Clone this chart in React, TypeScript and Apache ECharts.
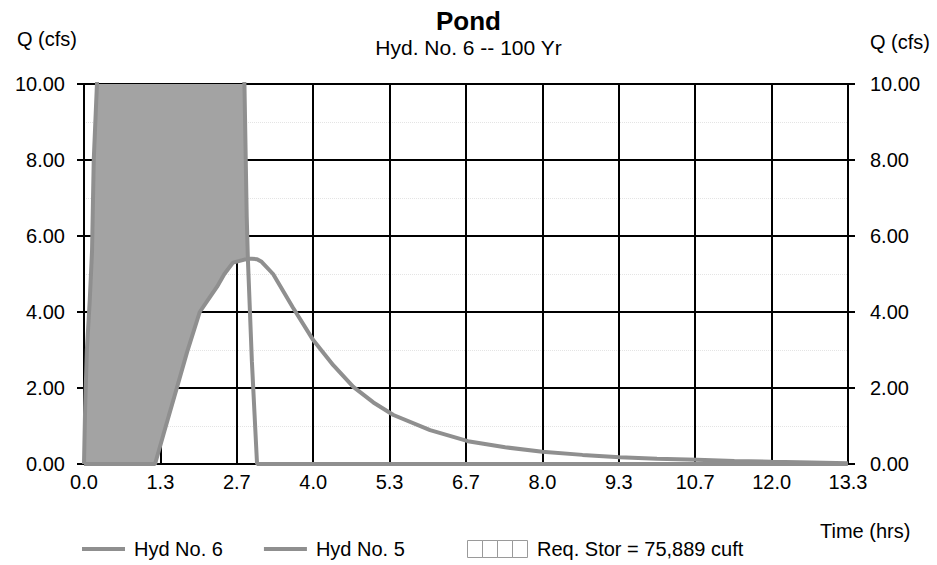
import React, { useEffect, useRef } from "react";
import * as echarts from "echarts";

// Time (hrs)
const timeHrs = [
  0, 0.02, 0.05, 0.1, 0.14, 0.17, 0.24, 0.5, 0.8, 1.0, 1.24, 1.4, 1.62, 1.8, 2.02,
  2.2, 2.32, 2.45, 2.6, 2.75, 2.8, 2.84, 2.86, 2.93, 3.02, 3.1, 3.3, 3.64, 4.0,
  4.35, 4.7, 5.05, 5.4, 6.04, 6.7, 7.35, 8.0, 8.7, 9.35, 10.0, 10.7, 11.35, 12.0,
  12.7, 13.33,
];

// Hyd No. 6 (outflow), cfs
const hydNo6 = [
  0, 0, 0, 0, 0, 0, 0, 0, 0, 0, 0, 0.85, 2.0, 2.95, 4.0,
  4.4, 4.66, 5.0, 5.3, 5.36, 5.38, 5.39, 5.4, 5.4, 5.39, 5.32, 5.0, 4.13, 3.26,
  2.6, 2.03, 1.62, 1.29, 0.89, 0.6, 0.44, 0.32, 0.24, 0.18, 0.14, 0.11, 0.08, 0.06,
  0.04, 0.02,
];

// Hyd No. 5 (inflow), cfs (peak runs off the top of the chart)
const hydNo5 = [
  0, 1.5, 3.0, 4.3, 5.6, 8.0, 10.5, 19, 27, 31, 33, 32, 29, 26, 22,
  19, 17, 15, 13, 11, 10, 6.5, 5.4, 2.7, 0, 0, 0, 0, 0,
  0, 0, 0, 0, 0, 0, 0, 0, 0, 0, 0, 0, 0, 0,
  0, 0,
];

const titleText = "Pond";
const subtitleText = "Hyd. No. 6 -- 100 Yr";
const yAxisTitle = "Q (cfs)";
const xAxisTitle = "Time (hrs)";
const hyd6Name = "Hyd No. 6";
const hyd5Name = "Hyd No. 5";
const storName = "Req. Stor = 75,889 cuft";

const FONT = "'Liberation Sans', Arial, sans-serif";
const LINE_COLOR = "#8f8f8f";
const FILL_COLOR = "#a3a3a3";

export default function App() {
  const ref = useRef<HTMLDivElement>(null);

  useEffect(() => {
    if (!ref.current) return;
    const chart = echarts.init(ref.current, null, { renderer: "svg" });

    // x stored in minutes so that the 1.333 h tick step is an exact 80
    const pts = (vals: number[]) => timeHrs.map((t, i) => [t * 60, vals[i]]);
    // value first, time second, so that stacking adds the Q values (not time)
    const stackPts = (vals: number[]) => timeHrs.map((t, i) => [vals[i], t * 60]);
    const storage = hydNo5.map((v, i) => Math.max(0, v - hydNo6[i]));

    const yAxisCommon = {
      type: "value",
      min: 0,
      max: 10,
      interval: 2,
      axisLine: { show: true, lineStyle: { color: "#000", width: 2 } },
      axisTick: { show: true, inside: false, length: 7, lineStyle: { color: "#000", width: 2 } },
      axisLabel: {
        fontSize: 20,
        color: "#000",
        fontFamily: FONT,
        formatter: (v: number) => v.toFixed(2),
      },
    };

    const option: any = {
      animation: false,
      textStyle: { fontFamily: FONT },
      title: {
        text: titleText,
        subtext: subtitleText,
        left: "center",
        top: 8,
        padding: 0,
        itemGap: 3,
        textStyle: { fontSize: 26, fontWeight: "bold", color: "#000", fontFamily: FONT },
        subtextStyle: { fontSize: 21, color: "#000", fontFamily: FONT },
      },
      grid: { left: 84, top: 84, right: 89, bottom: 101, containLabel: false },
      xAxis: {
        type: "value",
        min: 0,
        max: 800,
        interval: 80,
        axisLine: { show: true, lineStyle: { color: "#000", width: 2 } },
        axisTick: { show: false },
        axisLabel: {
          margin: 8,
          fontSize: 20,
          color: "#000",
          fontFamily: FONT,
          formatter: (v: number) => (v / 60).toFixed(1),
        },
        splitLine: { show: true, lineStyle: { color: "#000", width: 2 } },
      },
      yAxis: [
        {
          ...yAxisCommon,
          position: "left",
          axisLabel: { ...yAxisCommon.axisLabel, margin: 19 },
          splitLine: { show: true, lineStyle: { color: "#000", width: 2 } },
          minorTick: { show: false, splitNumber: 2 },
          minorSplitLine: { show: true, lineStyle: { color: "#e4e4e4", type: "dotted", width: 1 } },
        },
        {
          ...yAxisCommon,
          position: "right",
          axisLabel: { ...yAxisCommon.axisLabel, margin: 22 },
          splitLine: { show: false },
        },
      ],
      legend: [
        {
          data: [hyd6Name, hyd5Name],
          left: 82,
          top: 539,
          padding: 0,
          icon: "rect",
          itemWidth: 43,
          itemHeight: 4,
          itemGap: 41,
          selectedMode: false,
          textStyle: { fontSize: 20, color: "#000", fontFamily: FONT, padding: [0, 0, 0, 4] },
        },
        {
          data: [
            {
              name: storName,
              icon: "path://M0,0H15V17H0ZM15,0H30V17H15ZM30,0H45V17H30ZM45,0H60V17H45Z",
              itemStyle: { color: "#ffffff", borderColor: "#9a9a9a", borderWidth: 1 },
            },
          ],
          left: 467,
          top: 539,
          padding: 0,
          itemWidth: 61,
          itemHeight: 17,
          selectedMode: false,
          textStyle: { fontSize: 20, color: "#000", fontFamily: FONT, padding: [0, 0, 0, 4] },
        },
      ],
      graphic: [
        {
          type: "text",
          left: 17,
          top: 29,
          style: { text: yAxisTitle, fontSize: 20, fill: "#000", fontFamily: FONT },
        },
        {
          type: "text",
          left: 870,
          top: 32,
          style: { text: yAxisTitle, fontSize: 20, fill: "#000", fontFamily: FONT },
        },
        {
          type: "text",
          left: 820,
          top: 521,
          style: { text: xAxisTitle, fontSize: 20, fill: "#000", fontFamily: FONT },
        },
      ],
      series: [
        {
          name: "outflow-base",
          type: "line",
          stack: "stor",
          data: stackPts(hydNo6),
          encode: { x: 1, y: 0 },
          symbol: "none",
          silent: true,
          lineStyle: { width: 0, opacity: 0 },
          itemStyle: { color: "transparent" },
          z: 1,
        },
        {
          name: storName,
          type: "line",
          stack: "stor",
          data: stackPts(storage),
          encode: { x: 1, y: 0 },
          symbol: "none",
          silent: true,
          lineStyle: { width: 0, opacity: 0 },
          itemStyle: { color: FILL_COLOR },
          areaStyle: { color: FILL_COLOR, opacity: 1 },
          z: 1,
        },
        {
          name: hyd6Name,
          type: "line",
          data: pts(hydNo6),
          symbol: "none",
          itemStyle: { color: LINE_COLOR },
          lineStyle: { color: LINE_COLOR, width: 4 },
          z: 3,
        },
        {
          name: hyd5Name,
          type: "line",
          data: pts(hydNo5),
          symbol: "none",
          itemStyle: { color: LINE_COLOR },
          lineStyle: { color: LINE_COLOR, width: 4 },
          z: 3,
        },
      ],
    };

    chart.setOption(option);
    return () => chart.dispose();
  }, []);

  return (
    <div
      ref={ref}
      style={{ position: "absolute", left: 0, top: 0, width: 937, height: 565, background: "#fff" }}
    />
  );
}
